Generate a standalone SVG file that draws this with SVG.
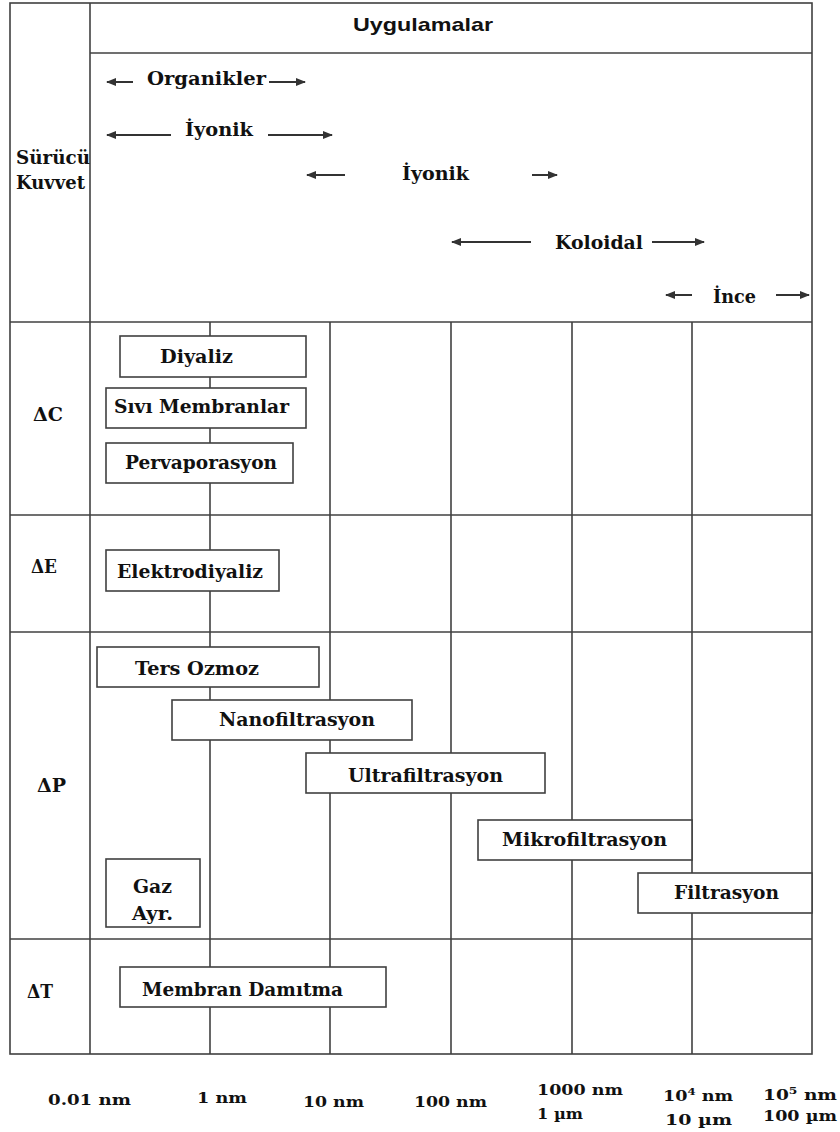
<svg xmlns="http://www.w3.org/2000/svg" width="840" height="1132" viewBox="0 0 840 1132">
<style>
.grid{stroke:#404040;stroke-width:1.6;fill:none}
.box{fill:#fff;stroke:#404040;stroke-width:1.6}
.t{font-family:"DejaVu Serif","Liberation Serif",serif;font-weight:bold;font-size:18px;fill:#111}
.ax{font-family:"DejaVu Serif","Liberation Serif",serif;font-weight:bold;font-size:15px;fill:#111}
.h{font-family:"Liberation Sans",Arial,sans-serif;font-weight:bold;font-size:19px;fill:#111}
.arr{stroke:#333;stroke-width:2;fill:none}
</style>
<defs>
<marker id="ah" markerUnits="userSpaceOnUse" markerWidth="10" markerHeight="10" viewBox="0 0 10 10" refX="9" refY="5" orient="auto">
<path d="M0,1 L10,5 L0,9 Z" fill="#333"/>
</marker>
</defs>
<rect width="840" height="1132" fill="#fff"/>
<g id="grid" class="grid">
<rect x="10" y="3" width="802" height="1051"/>
<line x1="90" y1="3" x2="90" y2="1054"/>
<line x1="90" y1="53" x2="812" y2="53"/>
<line x1="10" y1="322" x2="812" y2="322"/>
<line x1="10" y1="515" x2="812" y2="515"/>
<line x1="10" y1="632" x2="812" y2="632"/>
<line x1="10" y1="939" x2="812" y2="939"/>
<line x1="210" y1="322" x2="210" y2="1054"/>
<line x1="330" y1="322" x2="330" y2="1054"/>
<line x1="451" y1="322" x2="451" y2="1054"/>
<line x1="572" y1="322" x2="572" y2="1054"/>
<line x1="692" y1="322" x2="692" y2="1054"/>
</g>
<g id="header"><text class="h" x="353" y="31" textLength="140" lengthAdjust="spacingAndGlyphs">Uygulamalar</text></g>
<g id="surucu">
<text class="t" x="16" y="164" textLength="74" lengthAdjust="spacingAndGlyphs">Sürücü</text>
<text class="t" x="16" y="189" textLength="69" lengthAdjust="spacingAndGlyphs">Kuvvet</text>
</g>
<g id="row-labels">
<text class="t" x="33" y="421" textLength="30" lengthAdjust="spacingAndGlyphs">ΔC</text>
<text class="t" x="31" y="573" textLength="26" lengthAdjust="spacingAndGlyphs">ΔE</text>
<text class="t" x="37" y="792" textLength="29" lengthAdjust="spacingAndGlyphs">ΔP</text>
<text class="t" x="27" y="998" textLength="26" lengthAdjust="spacingAndGlyphs">ΔT</text>
</g>
<g id="range-labels">
<text class="t" x="147" y="85" textLength="119" lengthAdjust="spacingAndGlyphs">Organikler</text>
<text class="t" x="185" y="136" textLength="68" lengthAdjust="spacingAndGlyphs">İyonik</text>
<text class="t" x="402" y="180" textLength="67" lengthAdjust="spacingAndGlyphs">İyonik</text>
<text class="t" x="555" y="249" textLength="88" lengthAdjust="spacingAndGlyphs">Koloidal</text>
<text class="t" x="713" y="303" textLength="43" lengthAdjust="spacingAndGlyphs">İnce</text>
</g>
<g id="connectors" class="arr">
<line x1="133" y1="82" x2="107" y2="82" marker-end="url(#ah)"/>
<line x1="269" y1="82" x2="305" y2="82" marker-end="url(#ah)"/>
<line x1="171" y1="135" x2="107" y2="135" marker-end="url(#ah)"/>
<line x1="268" y1="135" x2="332" y2="135" marker-end="url(#ah)"/>
<line x1="345" y1="175" x2="307" y2="175" marker-end="url(#ah)"/>
<line x1="532" y1="175" x2="557" y2="175" marker-end="url(#ah)"/>
<line x1="531" y1="242" x2="452" y2="242" marker-end="url(#ah)"/>
<line x1="652" y1="242" x2="704" y2="242" marker-end="url(#ah)"/>
<line x1="692" y1="295" x2="666" y2="295" marker-end="url(#ah)"/>
<line x1="776" y1="295" x2="809" y2="295" marker-end="url(#ah)"/>
</g>
<g id="diyaliz"><rect class="box" x="120" y="336" width="186" height="41"/><text class="t" x="160" y="363" textLength="73" lengthAdjust="spacingAndGlyphs">Diyaliz</text></g>
<g id="sivi-membranlar"><rect class="box" x="106" y="388" width="200" height="40"/><text class="t" x="114" y="413" textLength="175" lengthAdjust="spacingAndGlyphs">Sıvı Membranlar</text></g>
<g id="pervaporasyon"><rect class="box" x="106" y="443" width="187" height="40"/><text class="t" x="125" y="469" textLength="152" lengthAdjust="spacingAndGlyphs">Pervaporasyon</text></g>
<g id="elektrodiyaliz"><rect class="box" x="106" y="550" width="173" height="41"/><text class="t" x="117" y="578" textLength="146" lengthAdjust="spacingAndGlyphs">Elektrodiyaliz</text></g>
<g id="ters-ozmoz"><rect class="box" x="97" y="647" width="222" height="40"/><text class="t" x="135" y="675" textLength="124" lengthAdjust="spacingAndGlyphs">Ters Ozmoz</text></g>
<g id="nanofiltrasyon"><rect class="box" x="172" y="700" width="240" height="40"/><text class="t" x="219" y="726" textLength="156" lengthAdjust="spacingAndGlyphs">Nanofiltrasyon</text></g>
<g id="ultrafiltrasyon"><rect class="box" x="306" y="753" width="239" height="40"/><text class="t" x="348" y="782" textLength="155" lengthAdjust="spacingAndGlyphs">Ultrafiltrasyon</text></g>
<g id="mikrofiltrasyon"><rect class="box" x="478" y="820" width="214" height="40"/><text class="t" x="502" y="846" textLength="165" lengthAdjust="spacingAndGlyphs">Mikrofiltrasyon</text></g>
<g id="filtrasyon"><rect class="box" x="638" y="873" width="174" height="40"/><text class="t" x="674" y="899" textLength="105" lengthAdjust="spacingAndGlyphs">Filtrasyon</text></g>
<g id="gaz-ayr"><rect class="box" x="106" y="859" width="94" height="68"/><text class="t" x="133" y="893" textLength="39" lengthAdjust="spacingAndGlyphs">Gaz</text><text class="t" x="132" y="920" textLength="41" lengthAdjust="spacingAndGlyphs">Ayr.</text></g>
<g id="membran-damitma"><rect class="box" x="120" y="967" width="266" height="40"/><text class="t" x="142" y="996" textLength="201" lengthAdjust="spacingAndGlyphs">Membran Damıtma</text></g>
<g id="axis">
<text class="ax" x="48" y="1105" textLength="83" lengthAdjust="spacingAndGlyphs">0.01 nm</text>
<text class="ax" x="197" y="1103" textLength="50" lengthAdjust="spacingAndGlyphs">1 nm</text>
<text class="ax" x="303" y="1107" textLength="61" lengthAdjust="spacingAndGlyphs">10 nm</text>
<text class="ax" x="414" y="1107" textLength="73" lengthAdjust="spacingAndGlyphs">100 nm</text>
<text class="ax" x="537" y="1095" textLength="86" lengthAdjust="spacingAndGlyphs">1000 nm</text>
<text class="ax" x="537" y="1119" textLength="46" lengthAdjust="spacingAndGlyphs">1 µm</text>
<text class="ax" x="663" y="1101" textLength="70" lengthAdjust="spacingAndGlyphs">10<tspan font-size="10" dy="-6">4</tspan><tspan dy="6"> nm</tspan></text>
<text class="ax" x="665" y="1125" textLength="67" lengthAdjust="spacingAndGlyphs">10  µm</text>
<text class="ax" x="763" y="1100" textLength="74" lengthAdjust="spacingAndGlyphs">10<tspan font-size="10" dy="-6">5</tspan><tspan dy="6"> nm</tspan></text>
<text class="ax" x="763" y="1121" textLength="74" lengthAdjust="spacingAndGlyphs">100 µm</text>
</g>
</svg>
